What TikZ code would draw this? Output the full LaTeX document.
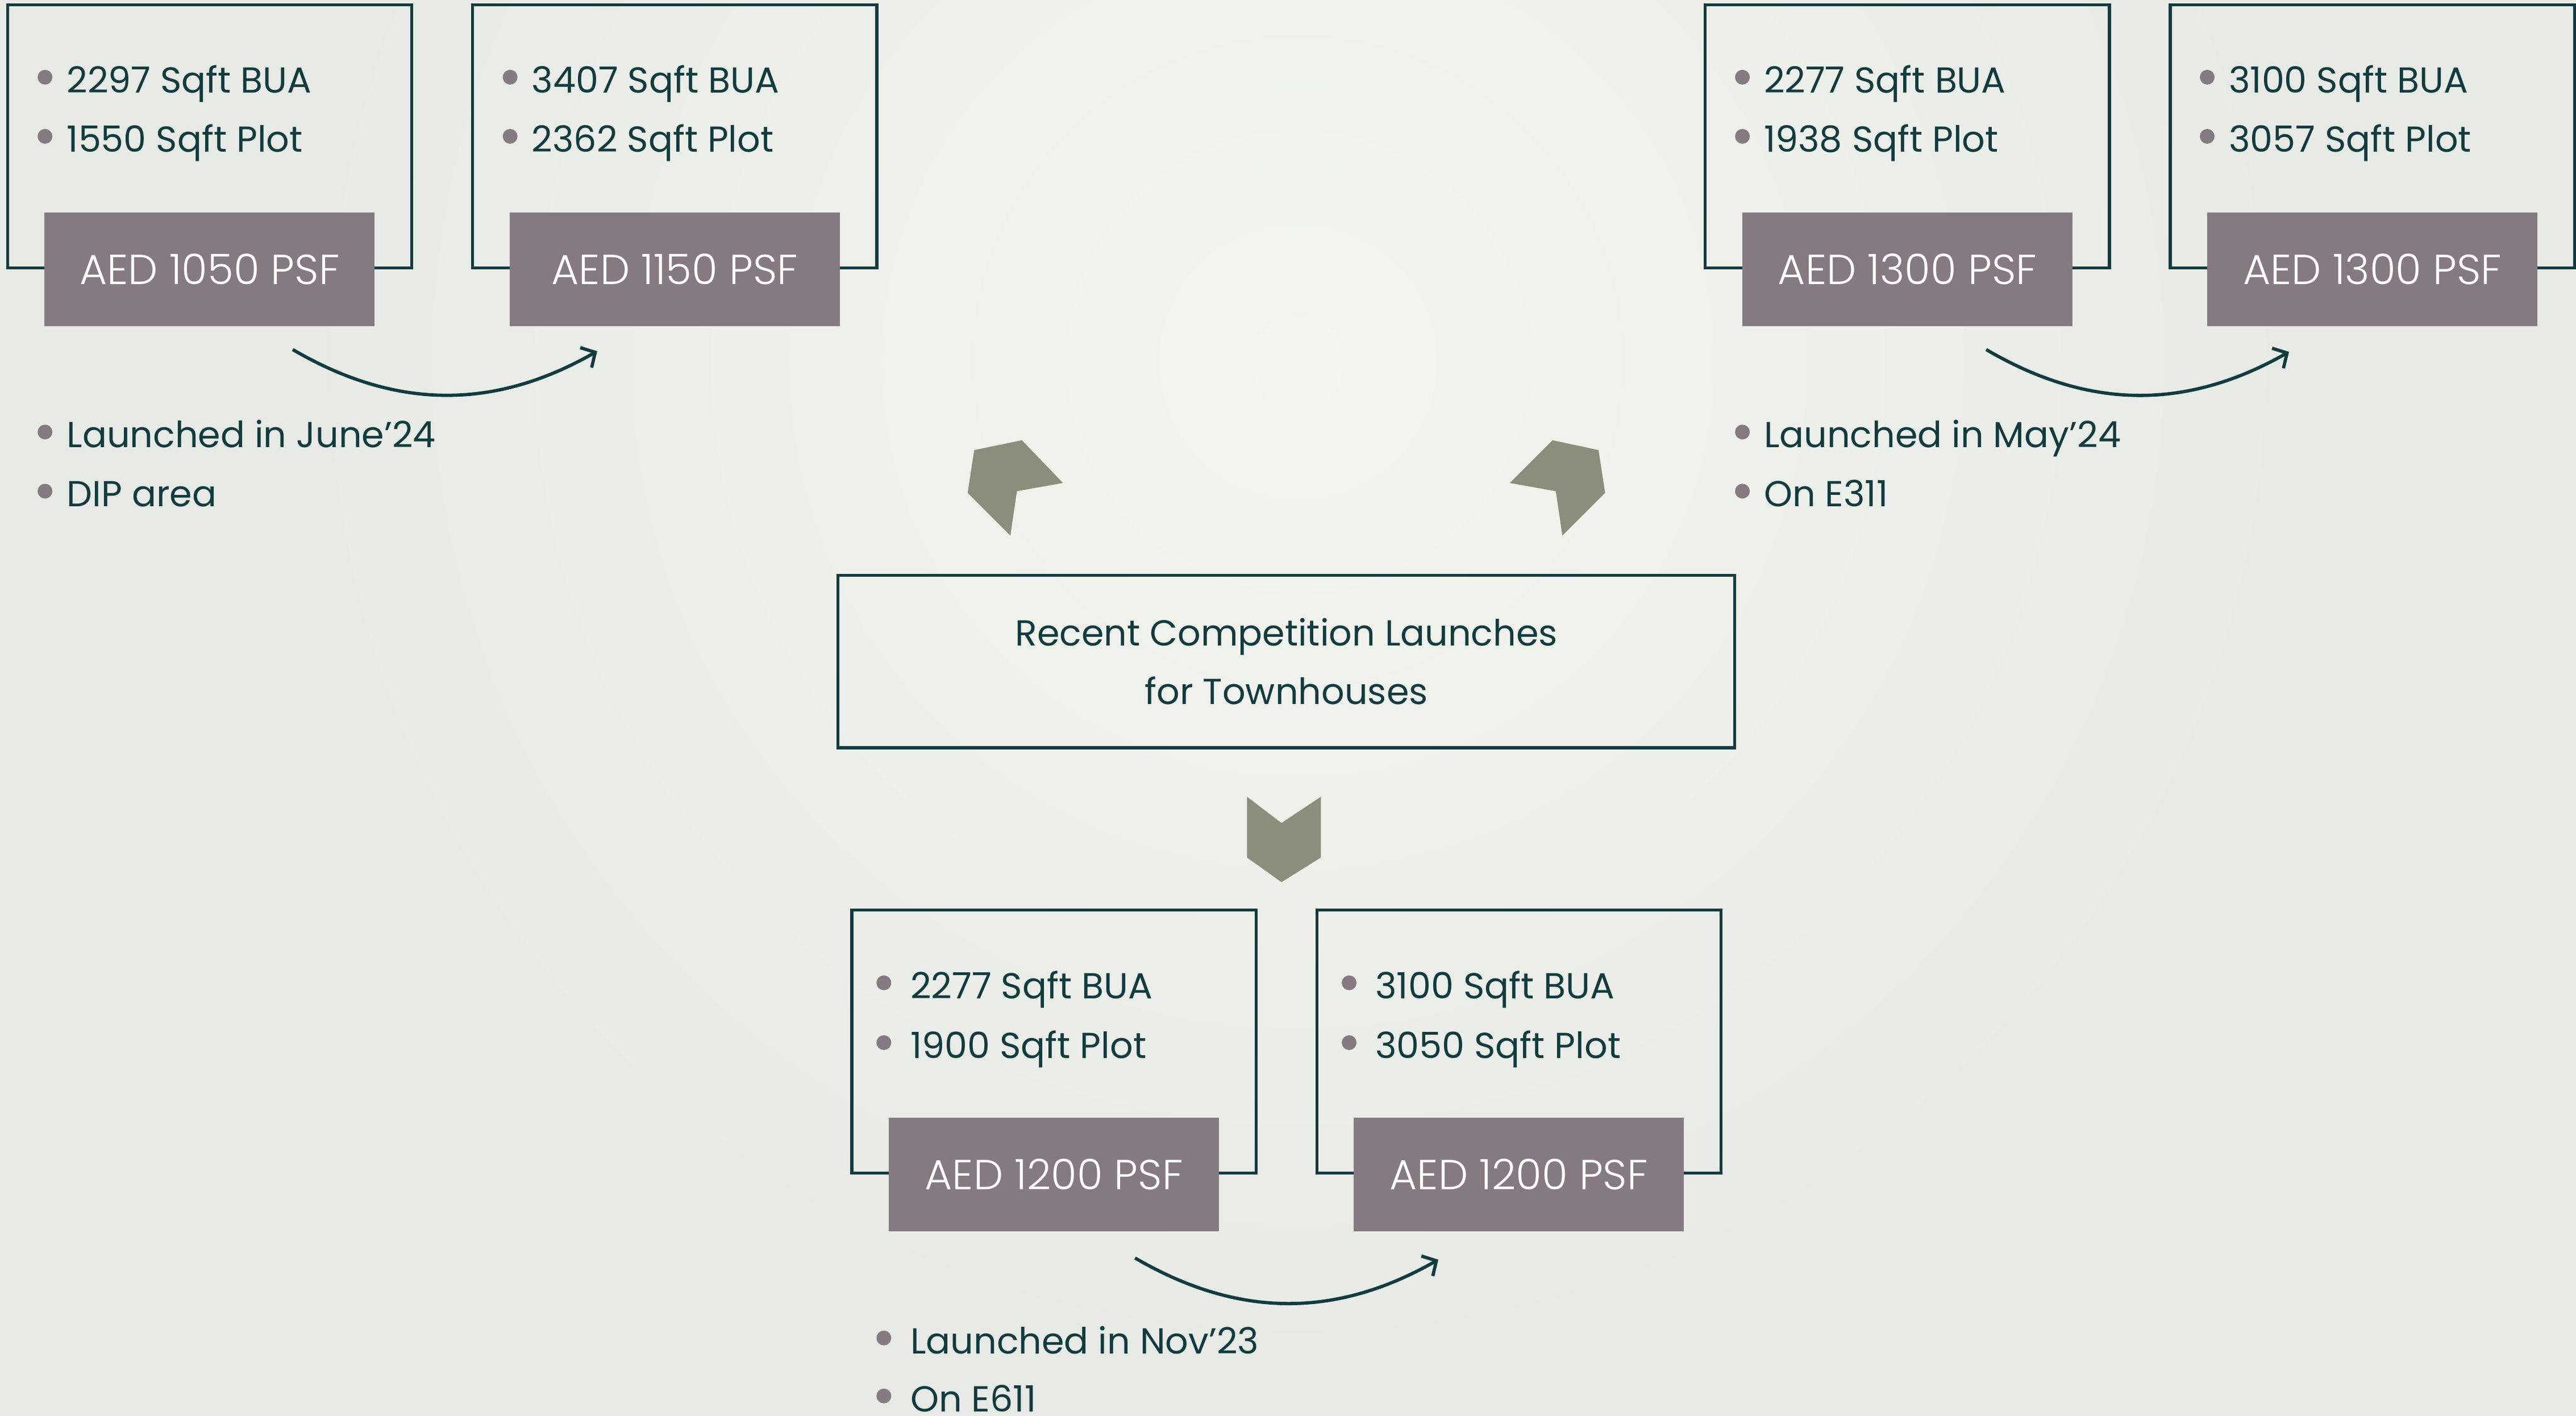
\documentclass[tikz,border=0pt]{standalone}
\usepackage{fontspec}
\setmainfont{Poppins}
\newfontfamily\pricefont{Poppins}[UprightFont={* Light}]
\usepackage{tikz}
\usetikzlibrary{arrows.meta}

\definecolor{ink}{HTML}{123B3F}
\definecolor{mauve}{HTML}{857A82}
\definecolor{olive}{HTML}{8B8E7B}
\definecolor{paper}{HTML}{E7EAE5}
\definecolor{paperlight}{HTML}{F4F5EF}

\tikzset{
  frame/.style={draw=ink, line width=1.8pt, minimum width=246pt, minimum height=160pt, inner sep=0pt},
  price/.style={fill=mauve, text=white, minimum width=201pt, minimum height=69pt, inner sep=0pt, font=\pricefont\fontsize{25.6}{30}\selectfont},
  dot/.style={circle, fill=mauve, minimum size=9pt, inner sep=0pt},
  item/.style={anchor=base west, text=ink, inner sep=0pt, font=\fontsize{22}{26}\selectfont},
  swing/.style={draw=ink, line width=2pt, -{Straight Barb[length=6.5pt,width=14pt]}, bend right=30},
  pointer/.style={fill=olive},
}

\begin{document}
\begin{tikzpicture}[x=1pt,y=-1pt]
\useasboundingbox (0,0) rectangle (1568,862);
\fill[paper] (0,0) rectangle (1568,862);
\shade[inner color=paperlight, outer color=paper] (790,220) circle (620);

% top left pair
\node (f1) at (127.6,83) [frame] {};
\node (p1) at (f1.south) [price] {AED 1050 PSF};
\node (f2) at (410.7,83) [frame] {};
\node (p2) at (f2.south) [price] {AED 1150 PSF};
	\node (d11) at (27.4,47) [dot] {};
	\node (t11) at (40.5,56.5) [item] {2297 Sqft BUA};
	\node (d12) at (27.4,83) [dot] {};
	\node (t12) at (40.5,92.5) [item] {1550 Sqft Plot};
	\node (d21) at (310.5,47) [dot] {};
	\node (t21) at (323.5,56.5) [item] {3407 Sqft BUA};
	\node (d22) at (310.5,83) [dot] {};
	\node (t22) at (323.5,92.5) [item] {2362 Sqft Plot};
	\node (d13) at (27.4,263) [dot] {};
	\node (t13) at (40.5,272.5) [item] {Launched in June’24};
	\node (d14) at (27.4,299) [dot] {};
	\node (t14) at (40.5,308.5) [item] {DIP area};
\coordinate (a1) at (178.2,212.8);
\coordinate (b1) at (363.5,213.8);
\draw[swing] (a1) to (b1);

% top right pair
\node (f3) at (1161,83) [frame] {};
\node (p3) at (f3.south) [price] {AED 1300 PSF};
\node (f4) at (1444,83) [frame] {};
\node (p4) at (f4.south) [price] {AED 1300 PSF};
	\node (d31) at (1060.6,47) [dot] {};
	\node (t31) at (1073.5,56.5) [item] {2277 Sqft BUA};
	\node (d32) at (1060.6,83) [dot] {};
	\node (t32) at (1073.5,92.5) [item] {1938 Sqft Plot};
	\node (d41) at (1343.5,47) [dot] {};
	\node (t41) at (1356.5,56.5) [item] {3100 Sqft BUA};
	\node (d42) at (1343.5,83) [dot] {};
	\node (t42) at (1356.5,92.5) [item] {3057 Sqft Plot};
	\node (d33) at (1060.6,263) [dot] {};
	\node (t33) at (1073.5,272.5) [item] {Launched in May’24};
	\node (d34) at (1060.6,299) [dot] {};
	\node (t34) at (1073.5,308.5) [item] {On E311};
\coordinate (a2) at (1209,212.8);
\coordinate (b2) at (1393.3,214.2);
\draw[swing] (a2) to (b2);

% centre
\node (hub) at (783,402.7) [draw=ink, line width=1.8pt, minimum width=546pt, minimum height=105pt, inner sep=0pt,
	text=ink, align=center, font=\fontsize{22}{35.6}\selectfont] {Recent Competition Launches\\for Townhouses};
\fill[pointer] (593,274) -- (622,268) -- (647,294) -- (619,299) -- (615,326) -- (589,300) -- cycle;
\fill[pointer] (945,268) -- (973,274) -- (977,300) -- (951,326) -- (947,299) -- (919,294) -- cycle;
\fill[pointer] (759,485) -- (780,501) -- (804,485) -- (804,522) -- (780,537) -- (759,522) -- cycle;

% bottom pair
\node (f5) at (641.5,634) [frame] {};
\node (p5) at (f5.south) [price] {AED 1200 PSF};
\node (f6) at (924.5,634) [frame] {};
\node (p6) at (f6.south) [price] {AED 1200 PSF};
	\node (d51) at (538,598.3) [dot] {};
	\node (t51) at (554,607.8) [item] {2277 Sqft BUA};
	\node (d52) at (538,634.7) [dot] {};
	\node (t52) at (554,644.2) [item] {1900 Sqft Plot};
	\node (d61) at (821.2,598.3) [dot] {};
	\node (t61) at (837,607.8) [item] {3100 Sqft BUA};
	\node (d62) at (821.2,634.7) [dot] {};
	\node (t62) at (837,644.2) [item] {3050 Sqft Plot};
	\node (d53) at (538,814.5) [dot] {};
	\node (t53) at (554,824) [item] {Launched in Nov’23};
	\node (d54) at (538,849.8) [dot] {};
	\node (t54) at (554,859.3) [item] {On E611};
\coordinate (a3) at (690.9,765.8);
\coordinate (b3) at (875.5,766.8);
\draw[swing] (a3) to (b3);
\end{tikzpicture}
\end{document}
